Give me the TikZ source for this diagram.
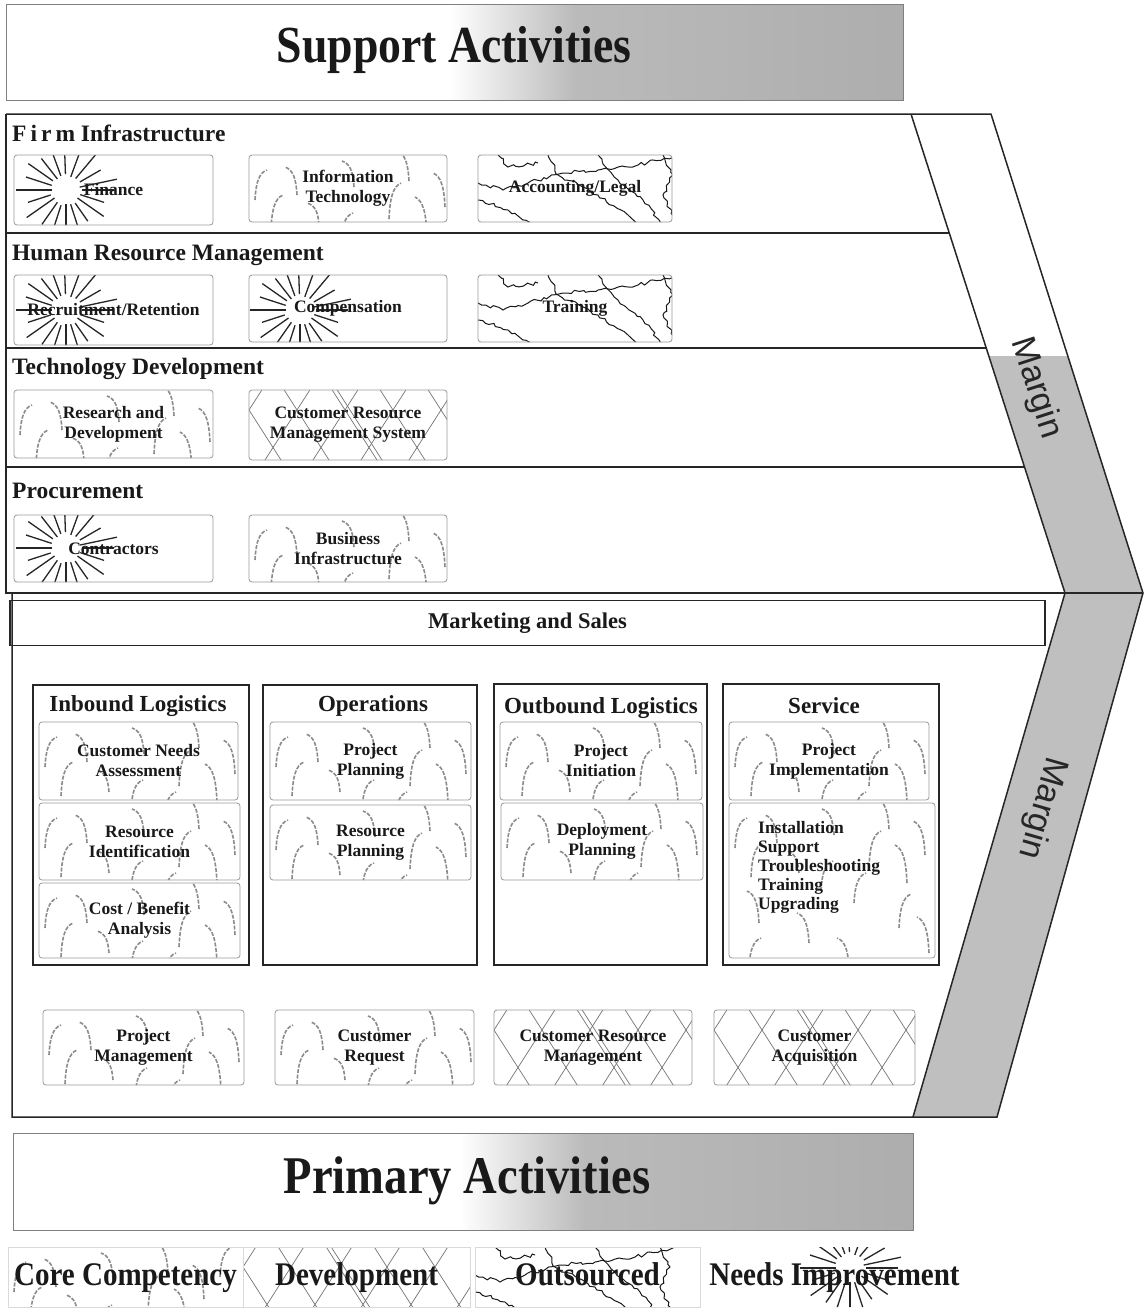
\documentclass[tikz,border=0pt]{standalone}
\usepackage{fontspec}
\setmainfont{Liberation Serif}
\newfontfamily\condfont[FakeStretch=0.88]{Liberation Serif}
\newfontfamily\margfont{Liberation Sans}
\usetikzlibrary{decorations.pathmorphing,calc}

% ---- fill patterns (coordinates relative to the box's top-left corner)
\newcommand\starpat[2]{%
  \foreach \a/\ri/\ro in {0/16/48, 18/15/40, 35/14/46, 55/16/38, 72/15/44, 90/14/40, 108/16/46, 125/15/42, 145/14/48, 162/16/40, 180/14/50, 198/15/42, 215/16/46, 232/14/40, 250/15/44, 268/16/36, 290/14/42, 310/15/46, 330/16/40, 348/14/52}
    \draw[black!85,line width=1.3pt] ($(#1,#2)+(\a:\ri)$) -- ($(#1,#2)+(\a:\ro)$);}

\newcommand\reedpat{%
  \foreach \px/\py/\pd/\ph in {6/45/1/30, 22/74/1/34, 48/40/-1/28, 92/88/1/30, 105/32/-1/26, 140/64/1/36, 160/26/-1/30, 178/80/-1/38, 196/52/-1/34, 212/30/1/30, 70/70/-1/22, 125/100/1/30, 30/120/-1/32, 170/125/1/34, 80/140/-1/30, 200/150/-1/36, 20/165/1/30, 120/165/-1/30}
    \draw[reed] (\px,\py) .. controls ({\px+(\pd)*1},{\py-0.6*\ph}) and ({\px+(\pd)*4},{\py-0.9*\ph}) .. ({\px+(\pd)*12},{\py-\ph});}

\newcommand\hatchpat{%
  \foreach \i in {-160,-112,...,280} {
    \draw[hatchline] (\i,-5) -- ++(80,125);
    \draw[hatchline] (\i+80,-5) -- ++(-80,125);}
  \foreach \i in {-64,80,224}
    \draw[hatchline] (\i+5,-5) -- ++(80,125);}

\newcommand\wigpat{%
  \pgfmathsetseed{42}
  \draw[wig] (0,28) -- (25,35) -- (50,28) -- (85,18) -- (120,15) -- (160,10) -- (200,0);
  \draw[wig] (0,45) -- (30,55) -- (55,70) -- (70,85);
  \draw[wig] (70,0) -- (80,20) -- (120,40) -- (150,60) -- (170,80);
  \draw[wig] (120,0) -- (140,25) -- (165,45) -- (185,70) -- (210,90);
  \draw[wig] (185,0) -- (195,20) -- (185,40) -- (195,60);
  \draw[wig] (150,90) -- (180,75) -- (210,85);
  \draw[wig] (20,0) -- (30,12) -- (60,8);}

% #1 node options, #2 name, #3 pattern, #4 x1, #5 y1, #6 x2, #7 y2, #8 text
\newcommand\patbox[8]{%
  \begin{scope}
    \clip[rounded corners=3pt] (#4,#5) rectangle (#6,#7);
    \begin{scope}[shift={(#4,#5)}]#3\end{scope}
  \end{scope}
  \node[pbox,minimum width={(#6-#4)*1pt},minimum height={(#7-#5)*1pt},#1] (#2) at ({(#4+#6)/2},{(#5+#7)/2}) {#8};}

\begin{document}
\begin{tikzpicture}[x=1pt,y=-1pt,
  frame/.style={draw=black!85,line width=1.5pt},
  reed/.style={draw=black!45,line width=1.6pt,dash pattern=on 4pt off 1.5pt},
  hatchline/.style={draw=black!55,line width=0.7pt},
  wig/.style={draw=black!90,line width=1pt,decorate,decoration={random steps,segment length=4pt,amplitude=1.8pt}},
  pbox/.style={draw=black!40,line width=0.8pt,rounded corners=3pt,align=center,inner sep=0pt,
    text=black!90,font=\fontsize{17.5}{20}\selectfont\bfseries},
  rowtitle/.style={anchor=base west,inner sep=0pt,text=black!90,font=\fontsize{23.5}{26}\selectfont\bfseries},
  col/.style={draw=black!85,line width=2pt,inner sep=0pt},
  coltitle/.style={inner sep=0pt,text=black!90,font=\fontsize{23}{26}\selectfont\bfseries},
  legend/.style={draw=black!15,line width=0.6pt,rounded corners=0pt,text height=24pt,text depth=7pt,
    text=black!90,font=\condfont\fontsize{33}{36}\selectfont\bfseries},
  banner/.style={inner sep=0pt,text=black!90,font=\condfont\fontsize{52}{56}\selectfont\bfseries},
  margin/.style={inner sep=0pt,text=black!85,font=\margfont\fontsize{34}{36}\selectfont}
]
\useasboundingbox (0,0) rectangle (1144,1310);
\fill[white] (0,0) rectangle (1144,1310);

% ---------- Support Activities banner
\shade[left color=white,right color=black!27] (450,4) rectangle (575,100);
\shade[left color=black!27,right color=black!32] (575,4) rectangle (903,100);
\draw[black!50,line width=1pt] (6,4) rectangle (903,100);
\node[banner] (sa) at (454,50) {Support Activities};

% ---------- Margin bands
\fill[black!25] (989,356) -- (1068,356) -- (1143,593) -- (1065,593) -- cycle;
\fill[black!25] (1065,593) -- (1143,593) -- (997,1117) -- (913,1117) -- cycle;

\coordinate (tl) at (6,114);
\coordinate (tb) at (991,114);
\coordinate (tip) at (1143,593);
\coordinate (bb) at (997,1117);
\coordinate (bl) at (12,1117);
\coordinate (il1) at (911,114);
\coordinate (il2) at (1065,593);
\coordinate (il3) at (913,1117);

\draw[frame] (tl) -- (tb) -- (tip) -- (bb) -- (bl) -- (12,593);
\draw[frame] (tl) -- (6,593) -- (tip);
\draw[frame] (il1) -- (il2) -- (il3);
\draw[frame] (6,233) -- (949.3,233);
\draw[frame] (6,348) -- (986.2,348);
\draw[frame] (6,467) -- (1024.5,467);

\node[margin,rotate=-72] (m1) at (1036,388) {Margin};
\node[margin,rotate=-106] (m2) at (1042,808) {Margin};

% ---------- Support rows
\node[rowtitle] (fi) at (12,141) {F\hspace{4pt}i\hspace{4pt}r\hspace{4pt}m Infrastructure};
\patbox{}{fin}{\starpat{52}{35}}{14}{155}{213}{225}{Finance}
\patbox{}{it}{\reedpat}{249}{155}{447}{222}{Information\\Technology}
\patbox{}{acc}{\wigpat}{478}{155}{672}{222}{Accounting/Legal}

\node[rowtitle] (hrm) at (12,260) {Human Resource Management};
\patbox{}{rec}{\starpat{52}{35}}{14}{275}{213}{345}{Recruitment/Retention}
\patbox{}{comp}{\starpat{51}{35}}{249}{275}{447}{342}{Compensation}
\patbox{}{tr}{\wigpat}{478}{275}{672}{342}{Training}

\node[rowtitle] (td) at (12,374) {Technology Development};
\patbox{}{rd}{\reedpat}{14}{390}{213}{458}{Research and\\Development}
\patbox{}{crms}{\hatchpat}{249}{390}{447}{460}{Customer Resource\\Management System}

\node[rowtitle] (pr) at (12,498) {Procurement};
\patbox{}{con}{\starpat{52}{33}}{14}{515}{213}{582}{Contractors}
\patbox{}{bi}{\reedpat}{249}{515}{447}{582}{Business\\Infrastructure}

% ---------- Primary
\node[draw=black!85,line width=1.3pt,minimum width=1035pt,minimum height=45pt,inner sep=0pt,
  text=black!90,font=\fontsize{22.5}{26}\selectfont\bfseries] (ms) at (527.5,623) {Marketing and Sales};

\node[col,minimum width=216pt,minimum height=280pt] (il) at (141,825) {};
\node[col,minimum width=214pt,minimum height=280pt] (op) at (370,825) {};
\node[col,minimum width=213pt,minimum height=281pt] (ol) at (600.5,824.5) {};
\node[col,minimum width=216pt,minimum height=281pt] (sv) at (831,824.5) {};

\node[coltitle] (ilt) at (138,706) {Inbound Logistics};
\node[coltitle] (opt) at (373,706) {Operations};
\node[coltitle] (olt) at (601,708) {Outbound Logistics};
\node[coltitle] (svt) at (824,706) {Service};

\patbox{}{cna}{\reedpat}{39}{722}{238}{800}{Customer Needs\\Assessment}
\patbox{}{ri}{\reedpat}{39}{803}{240}{880}{Resource\\Identification}
\patbox{}{cba}{\reedpat}{39}{883}{240}{958}{Cost / Benefit\\Analysis}
\patbox{}{pp}{\reedpat}{270}{722}{471}{800}{Project\\Planning}
\patbox{}{rp}{\reedpat}{270}{805}{471}{880}{Resource\\Planning}
\patbox{}{pi}{\reedpat}{500}{722}{702}{800}{Project\\Initiation}
\patbox{}{dp}{\reedpat}{501}{803}{703}{880}{Deployment\\Planning}
\patbox{}{pim}{\reedpat}{729}{722}{929}{800}{Project\\Implementation}
\patbox{}{isl}{\reedpat}{729}{803}{935}{958}{}
\node[anchor=north west,align=left,inner sep=0pt,text=black!90,font=\fontsize{17.5}{19}\selectfont\bfseries]
  (isltxt) at (758,821) {Installation\\Support\\Troubleshooting\\Training\\Upgrading};

\patbox{}{pm}{\reedpat}{43}{1010}{244}{1085}{Project\\Management}
\patbox{}{cr}{\reedpat}{275}{1010}{474}{1085}{Customer\\Request}
\patbox{}{crm}{\hatchpat}{494}{1010}{692}{1085}{Customer Resource\\Management}
\patbox{}{ca}{\hatchpat}{714}{1010}{915}{1085}{Customer\\Acquisition}

% ---------- Primary Activities banner
\shade[left color=white,right color=black!27] (460,1133) rectangle (585,1230);
\shade[left color=black!27,right color=black!32] (585,1133) rectangle (913,1230);
\draw[black!50,line width=1pt] (13,1133) rectangle (913,1230);
\node[banner,font=\condfont\fontsize{53}{57}\selectfont\bfseries] (pa) at (467,1181) {Primary Activities};

% ---------- Legend
\patbox{legend}{lcc}{\reedpat}{8}{1247}{243}{1307}{Core Competency}
\patbox{legend}{ldev}{\hatchpat}{243}{1247}{470}{1307}{Development}
\patbox{legend}{lout}{\wigpat}{475}{1247}{700}{1307}{Outsourced}
\patbox{legend,draw=none}{lni}{\starpat{146}{21}}{704}{1247}{965}{1307}{Needs Improvement}
\end{tikzpicture}
\end{document}
